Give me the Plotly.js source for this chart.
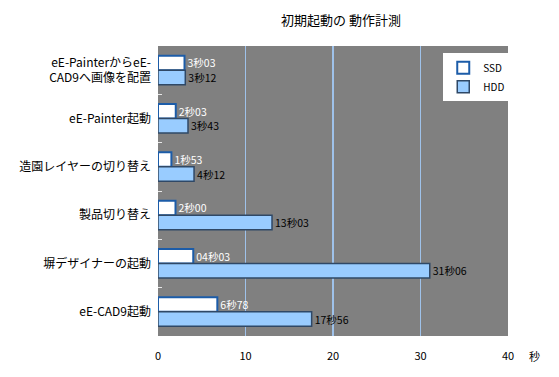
<!DOCTYPE html>
<html>
<head>
<meta charset="utf-8">
<script src="https://cdn.plot.ly/plotly-3.0.1.min.js"></script>
<style>html,body{margin:0;padding:0;background:#fff;}#chart{width:559px;height:377px;}</style>
</head>
<body>
<div id="chart"></div>
<script>
const categories = [
  "eE-PainterからeE-<br>CAD9へ画像を配置",
  "eE-Painter起動",
  "造園レイヤーの切り替え",
  "製品切り替え",
  "塀デザイナーの起動",
  "eE-CAD9起動"
];
const ssdValues = [3.03, 2.03, 1.53, 2.00, 4.03, 6.78];
const hddValues = [3.12, 3.43, 4.12, 13.03, 31.06, 17.56];
const ssdLabels = ["3秒03", "2秒03", "1秒53", "2秒00", "04秒03", "6秒78"];
const hddLabels = ["3秒12", "3秒43", "4秒12", "13秒03", "31秒06", "17秒56"];
const xTicks = [0, 10, 20, 30, 40];

const font = "'Noto Sans CJK JP', 'Noto Sans', sans-serif";

const data = [
  {
    type: "bar", orientation: "h", name: "SSD",
    y: categories, x: ssdValues, text: ssdLabels,
    textposition: "outside", cliponaxis: false, constraintext: "none",
    textfont: {color: "#ffffff", size: 10.5, family: font},
    marker: {color: "#ffffff", line: {color: "#1c5ca8", width: 2}},
    hoverinfo: "none"
  },
  {
    type: "bar", orientation: "h", name: "HDD",
    y: categories, x: hddValues, text: hddLabels,
    textposition: "outside", cliponaxis: false, constraintext: "none",
    textfont: {color: "#000000", size: 10.5, family: font},
    marker: {color: "#99ccff", line: {color: "#2f4866", width: 1.5}},
    hoverinfo: "none"
  }
];

const layout = {
  width: 559, height: 377,
  margin: {l: 158, r: 51, t: 46, b: 41},
  paper_bgcolor: "#ffffff",
  plot_bgcolor: "#808080",
  font: {family: font, size: 12, color: "#000"},
  barmode: "group",
  bargap: 0.4,
  bargroupgap: 0,
  showlegend: true,
  legend: {
    x: 0.815, y: 0.975, xanchor: "left", yanchor: "top",
    bgcolor: "#ffffff", borderwidth: 0,
    font: {size: 10, family: font},
    itemwidth: 30, tracegroupgap: 0
  },
  title: {
    text: "初期起動の 動作計測",
    x: 0.61, xanchor: "center", y: 0.947, yanchor: "middle",
    font: {size: 13, family: font, color: "#000"}
  },
  xaxis: {
    range: [0, 40],
    tickvals: xTicks,
    ticktext: xTicks.map(String),
    showgrid: true, gridcolor: "#9fc2ea", gridwidth: 1.2,
    zeroline: false, showline: false,
    ticks: "", ticklabelstandoff: 12,
    tickfont: {size: 11, family: font}
  },
  yaxis: {
    autorange: "reversed",
    type: "category",
    showgrid: false, zeroline: false, showline: false,
    ticks: "inside", tickson: "boundaries", ticklen: 4, tickcolor: "#e8e8e8",
    ticklabelstandoff: 6,
    tickfont: {size: 12, family: font}
  },
  annotations: [
    {text: "秒", xref: "paper", yref: "paper", x: 1.055, y: -0.07,
     xanchor: "left", yanchor: "middle", showarrow: false,
     font: {size: 11, family: font}}
  ]
};

Plotly.newPlot("chart", data, layout, {displayModeBar: false, staticPlot: true});
</script>
</body>
</html>
